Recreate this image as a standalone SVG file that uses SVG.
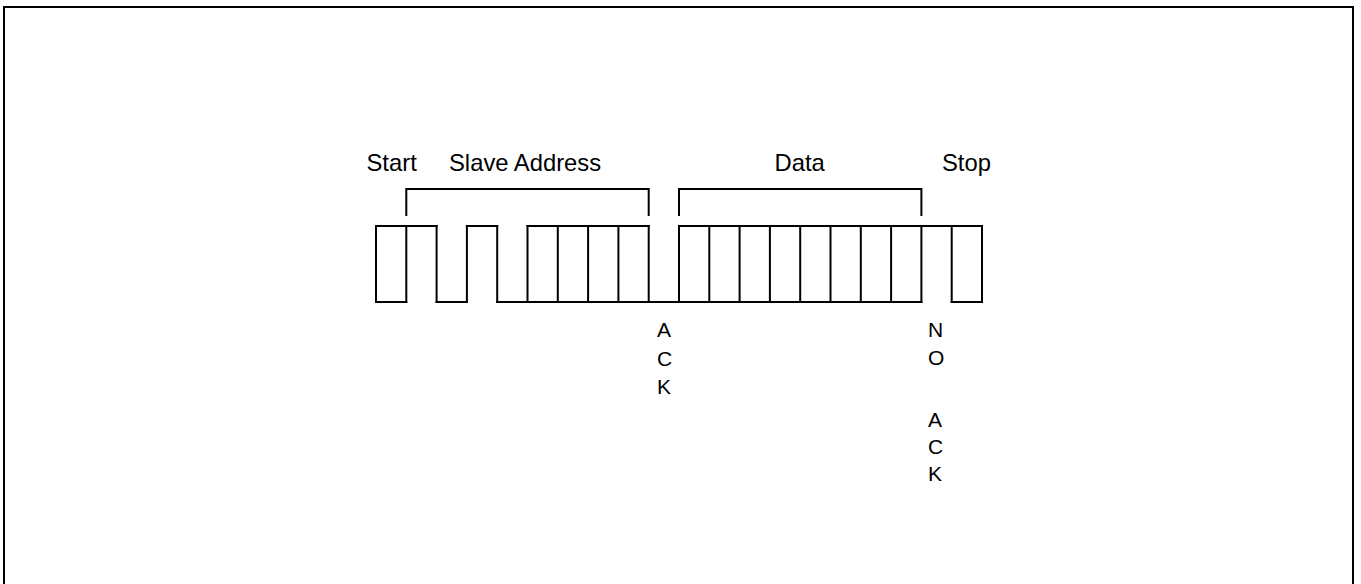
<svg xmlns="http://www.w3.org/2000/svg" width="1361" height="584" viewBox="0 0 1361 584">
<style>
.ln{fill:none;stroke:#000;stroke-width:2;stroke-linecap:square;stroke-linejoin:miter}
.lbl{font-family:"Liberation Sans",Arial,sans-serif;font-size:23.8px;fill:#000}
.v{font-family:"Liberation Sans",Arial,sans-serif;font-size:21px;fill:#000}
</style>
<rect x="4" y="7" width="1349" height="620" fill="#fff" stroke="#000" stroke-width="2"/>
<g id="labels">
<text class="lbl" x="366.5" y="170.5">Start</text>
<text class="lbl" x="449" y="170.5">Slave Address</text>
<text class="lbl" x="774.5" y="170.5">Data</text>
<text class="lbl" x="942" y="170.5">Stop</text>
</g>
<g id="ack">
<text class="v" x="657" y="337">A</text>
<text class="v" x="657" y="366">C</text>
<text class="v" x="657" y="394">K</text>
</g>
<g id="noack">
<text class="v" x="928" y="336.7">N</text>
<text class="v" x="928" y="364.5">O</text>
<text class="v" x="928" y="426.7">A</text>
<text class="v" x="928" y="454">C</text>
<text class="v" x="928" y="480.7">K</text>
</g>
<g id="brackets">
<path class="ln" d="M406.3 215V189H648.7V215"/>
<path class="ln" d="M679 215V189H921.4V215"/>
</g>
<g id="waveform">
<path class="ln" d="M376 226H436.6M466.9 226H497.2M527.5 226H648.7M679 226H982"/>
<path class="ln" d="M376 302H406.3M436.6 302H466.9M497.2 302H921.4M951.7 302H982"/>
<path class="ln" d="M376 226V302M406.3 226V302M436.6 226V302M466.9 226V302M497.2 226V302M527.5 226V302M557.8 226V302M588.1 226V302M618.4 226V302M648.7 226V302M679 226V302M709.3 226V302M739.6 226V302M769.9 226V302M800.2 226V302M830.5 226V302M860.8 226V302M891.1 226V302M921.4 226V302M951.7 226V302M982 226V302"/>
</g>
</svg>
